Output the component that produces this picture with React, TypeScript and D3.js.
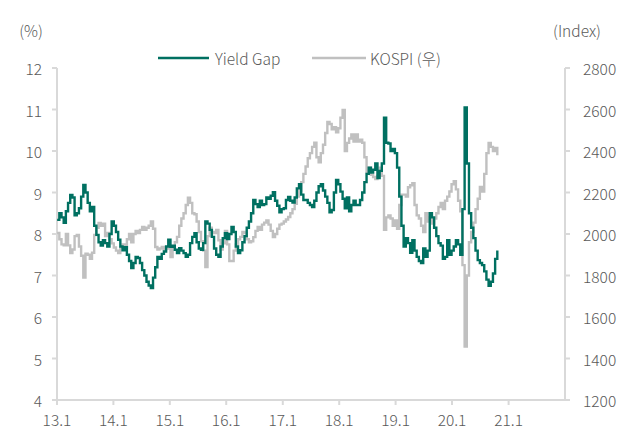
import React, { useEffect, useRef } from 'react';
import * as d3 from 'd3';

// biweekly observations, evenly spaced between first and last date
const FIRST_DATE = new Date(2013, 0, 2);
const LAST_DATE = new Date(2020, 9, 20);

// Yield Gap (%), left axis
const yieldGap = [
  8.34, 8.5, 8.4, 8.27, 8.55, 8.75, 8.94, 8.88, 8.45, 8.5, 8.62, 8.9, 9.18, 9.0, 8.75, 8.55, 8.65, 8.2, 7.98, 7.8, 7.72, 7.85, 7.78, 7.7, 8.0, 8.3,
  8.2, 8.05, 7.86, 7.7, 7.61, 7.68, 7.5, 7.35, 7.18, 7.3, 7.45, 7.42, 7.3, 7.13, 7.0, 6.85, 6.76, 6.7, 6.95, 7.2, 7.45, 7.4, 7.52, 7.58, 7.7, 7.86,
  7.69, 7.72, 7.62, 7.54, 7.66, 7.6, 7.54, 7.45, 7.5, 7.78, 7.93, 8.02, 7.8, 7.65, 7.62, 7.78, 8.3, 8.25, 8.1, 7.93, 7.65, 7.5, 7.45, 7.7, 7.9, 8.02,
  7.88, 8.0, 8.17, 8.05, 7.7, 7.54, 7.61, 7.8, 7.95, 8.15, 8.3, 8.5, 8.82, 8.72, 8.65, 8.8, 8.7, 8.72, 8.88, 8.85, 8.92, 9.01, 8.8, 8.68, 8.52, 8.6,
  8.62, 8.82, 8.89, 8.8, 8.76, 8.88, 9.1, 9.2, 8.95, 8.82, 8.82, 8.75, 8.7, 8.65, 8.8, 9.0, 9.15, 9.2, 9.05, 8.9, 8.75, 8.52, 8.58, 9.0, 9.3, 9.2,
  9.02, 8.85, 8.62, 8.88, 8.55, 8.7, 8.8, 8.7, 8.7, 8.82, 9.0, 9.25, 9.45, 9.6, 9.48, 9.55, 9.7, 9.35, 9.52, 9.7, 10.8, 10.2, 10.18, 10.0, 10.05, 9.95,
  9.6, 8.9, 8.2, 7.7, 7.9, 7.78, 7.55, 7.85, 7.6, 7.45, 7.35, 7.3, 7.65, 7.45, 7.6, 8.5, 8.4, 8.15, 7.95, 7.78, 7.72, 7.4, 7.45, 7.85, 7.5, 7.6,
  7.7, 7.85, 7.75, 7.5, 8.6, 11.05, 9.7, 8.5, 8.15, 7.9, 7.6, 7.37, 7.3, 7.25, 7.1, 6.9, 6.75, 6.85, 7.05, 7.4, 7.6,
];

// KOSPI (index), right axis
const kospi = [
  2005, 1975, 1950, 1945, 2000, 1945, 1908, 1925, 1990, 1995, 1940, 1895, 1790, 1905, 1900, 1880, 1910, 1995, 2030, 2053, 2040, 2050, 1990, 2005, 1975, 1955,
  1935, 1920, 1908, 1935, 1950, 1935, 1975, 2000, 1960, 2000, 2015, 2005, 2020, 2034, 2020, 2030, 2040, 2060, 2025, 1937, 1925, 1930, 1937, 1925, 1930, 1930,
  1889, 1935, 1960, 1986, 2040, 2075, 2100, 2140, 2175, 2150, 2100, 2095, 2060, 2010, 1965, 1920, 1841, 1990, 2030, 2010, 2005, 2020, 1970, 1925, 1955, 2015,
  1950, 1870, 1870, 1920, 1950, 1975, 1986, 2010, 2005, 1975, 1960, 1965, 1985, 2015, 2034, 2020, 2045, 2055, 2065, 2045, 2015, 1985, 2000, 2025, 2045, 2050,
  2060, 2070, 2082, 2100, 2120, 2145, 2180, 2210, 2250, 2290, 2325, 2365, 2390, 2420, 2440, 2370, 2345, 2390, 2430, 2487, 2540, 2530, 2505, 2515, 2490, 2510,
  2560, 2598, 2400, 2439, 2460, 2480, 2445, 2480, 2445, 2455, 2440, 2370, 2300, 2320, 2285, 2275, 2265, 2280, 2320, 2280, 2020, 2080, 2090, 2075, 2040, 2065,
  2025, 2140, 2190, 2190, 2180, 2225, 2235, 2245, 2140, 2090, 2075, 2040, 2010, 2100, 2060, 2080, 2050, 2075, 2100, 2130, 2150, 2120, 2160, 2180, 2205, 2240,
  2255, 2215, 2160, 2110, 1850, 1457, 1800, 1960, 2010, 2055, 2120, 2170, 2227, 2205, 2290, 2390, 2439, 2420, 2400, 2415, 2380,
];

const leftTicks = [4, 5, 6, 7, 8, 9, 10, 11, 12];
const rightTicks = [1200, 1400, 1600, 1800, 2000, 2200, 2400, 2600, 2800];
const yearTicks = [2013, 2014, 2015, 2016, 2017, 2018, 2019, 2020, 2021];

const TEAL = '#007061';
const GREY = '#c0c0c0';
const AXIS = '#d9d9d9';
const TEXT = '#595959';
const FONT = "'Noto Sans CJK KR', 'Noto Sans', sans-serif";
const FS = 15.5;

export default function App() {
  const svgRef = useRef<SVGSVGElement>(null);

  useEffect(() => {
    document.body.style.margin = '0';
    const W = 637;
    const H = 430;
    const m = { left: 57, right: 565, top: 68, bottom: 400 };

    const svg = d3.select(svgRef.current);
    svg.selectAll('*').remove();
    svg.attr('width', W).attr('height', H);

    const n = yieldGap.length;
    const span = +LAST_DATE - +FIRST_DATE;
    const dates = d3.range(n).map(i => new Date(+FIRST_DATE + (i * span) / (n - 1)));

    const x = d3.scaleTime()
      .domain([new Date(2013, 0, 1), new Date(2022, 0, 1)])
      .range([m.left, m.right]);
    const yL = d3.scaleLinear().domain([4, 12]).range([m.bottom, m.top]);
    const yR = d3.scaleLinear().domain([1200, 2800]).range([m.bottom, m.top]);

    const g = svg.append('g').attr('font-family', FONT).attr('fill', TEXT);

    // axis lines
    const axisLine = (x1: number, y1: number, x2: number, y2: number) =>
      g.append('line').attr('x1', x1).attr('y1', y1).attr('x2', x2).attr('y2', y2)
        .attr('stroke', AXIS).attr('stroke-width', 2);
    axisLine(m.left, m.top, m.left, m.bottom);
    axisLine(m.right, m.top, m.right, m.bottom);
    axisLine(m.left, m.bottom, m.right, m.bottom);

    const label = (tx: number, ty: number, s: string, anchor = 'middle') =>
      g.append('text').attr('x', tx).attr('y', ty).attr('text-anchor', anchor)
        .attr('dominant-baseline', 'central').attr('font-size', FS).attr('font-weight', 300).text(s);

    // left ticks
    leftTicks.forEach(t => {
      axisLine(m.left - 5, yL(t), m.left, yL(t));
      label(42, yL(t), String(t), 'end');
    });

    // right ticks
    rightTicks.forEach(t => {
      axisLine(m.right, yR(t), m.right + 5, yR(t));
      label(583, yR(t), String(t), 'start');
    });

    // x ticks
    const fmt = d3.timeFormat('%y.%-m');
    yearTicks.forEach(yr => {
      const d = new Date(yr, 0, 1);
      axisLine(x(d), m.bottom, x(d), m.bottom + 5);
      label(x(d), 419, fmt(d));
    });

    // units
    label(31, 30, '(%)');
    label(577, 30, '(Index)');

    // series
    const kospiLine = d3.line<number>().x((_, i) => x(dates[i])).y(v => yR(v)).curve(d3.curveStepAfter);
    const gapLine = d3.line<number>().x((_, i) => x(dates[i])).y(v => yL(v)).curve(d3.curveStepAfter);

    svg.append('path').datum(kospi).attr('d', kospiLine).attr('fill', 'none')
      .attr('stroke', GREY).attr('stroke-width', 2.4);
    svg.append('path').datum(yieldGap).attr('d', gapLine).attr('fill', 'none')
      .attr('stroke', TEAL).attr('stroke-width', 2.4);

    // legend
    const legend = [
      { label: 'Yield Gap', color: TEAL, x0: 158, x1: 209, tx: 215 },
      { label: 'KOSPI (우)', color: GREY, x0: 312, x1: 366, tx: 370 },
    ];
    legend.forEach(l => {
      g.append('line').attr('x1', l.x0).attr('x2', l.x1).attr('y1', 58).attr('y2', 58)
        .attr('stroke', l.color).attr('stroke-width', 2.5);
      label(l.tx, 58, l.label, 'start');
    });
  }, []);

  return <svg ref={svgRef} />;
}
